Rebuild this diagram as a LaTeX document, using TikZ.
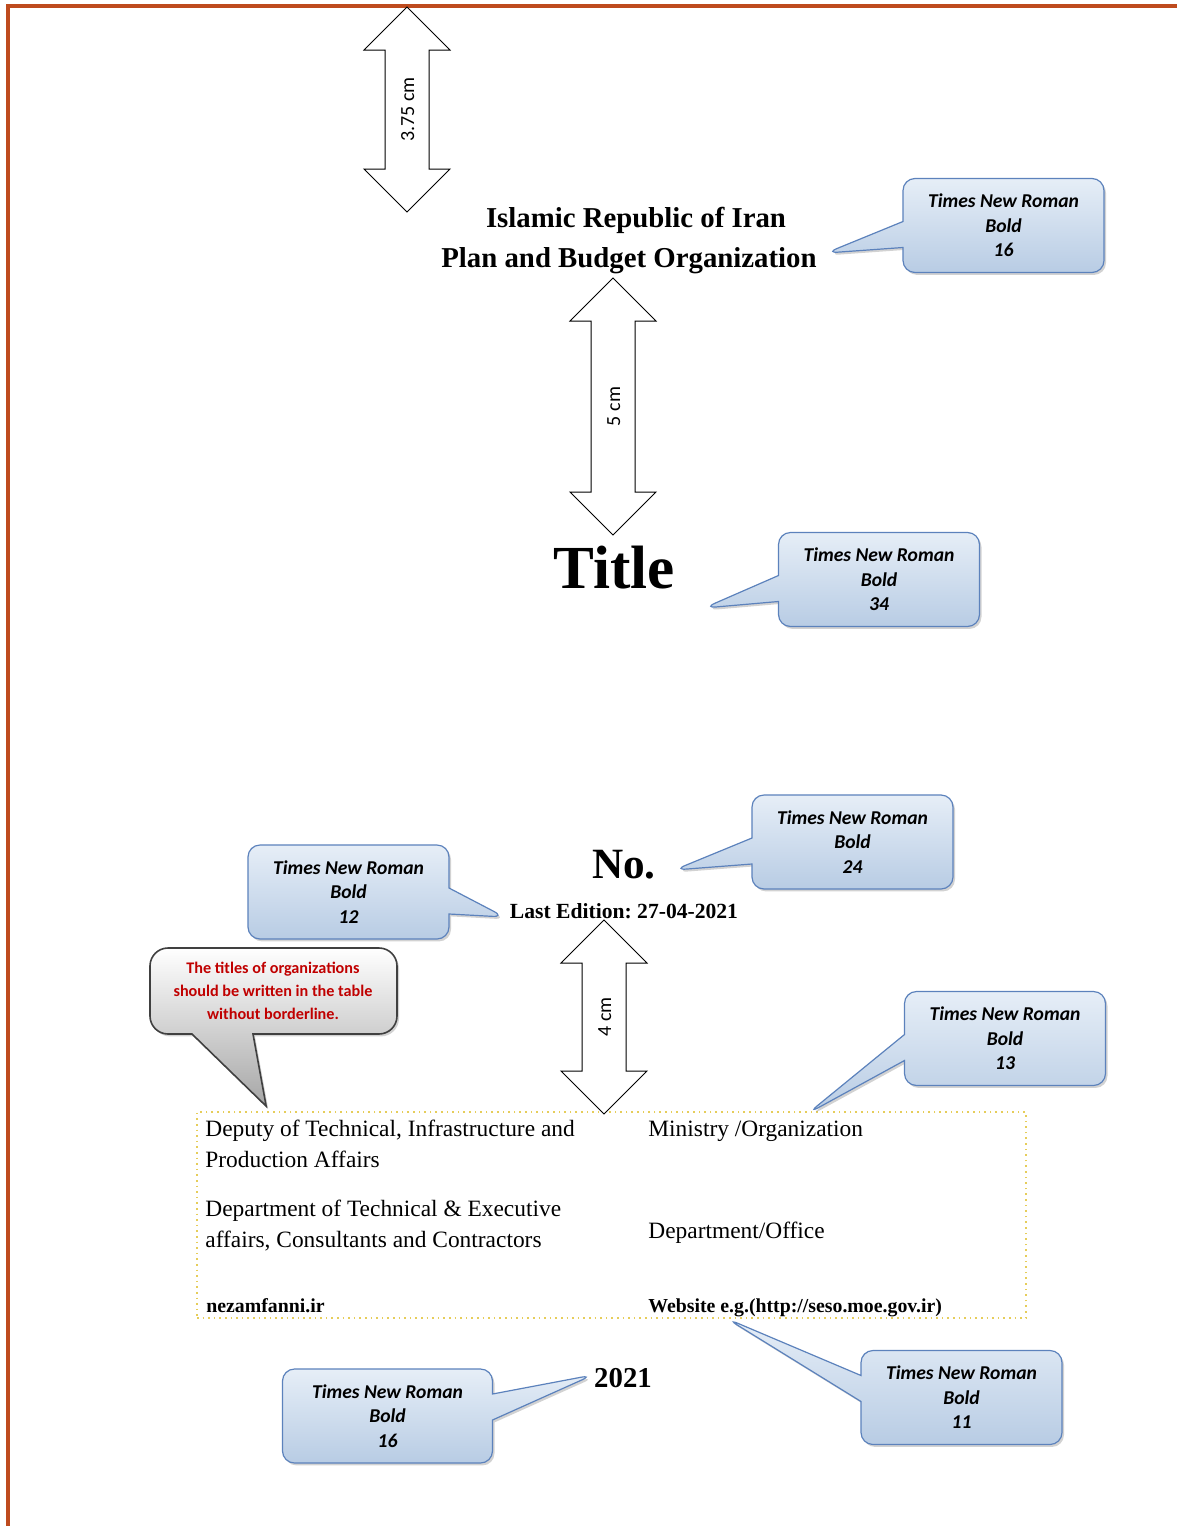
\documentclass[tikz,border=0pt]{standalone}
\usepackage{fontspec}
\setmainfont{Liberation Serif}
\newfontfamily\notefont{Carlito}
\usetikzlibrary{calc,shapes.arrows,shapes.callouts,shadows}
\frenchspacing

\definecolor{frameorange}{RGB}{190,75,30}
\definecolor{notetop}{RGB}{230,238,247}
\definecolor{notebottom}{RGB}{184,204,228}
\definecolor{noteline}{RGB}{92,130,188}
\definecolor{notered}{RGB}{192,0,0}
\definecolor{tabledots}{RGB}{230,205,90}

\begin{document}
\begin{tikzpicture}[x=0.5pt, y=-0.5pt,
    dimarrow/.style={double arrow, draw, fill=white, line width=0.5pt, rotate=90,
      double arrow head extend=10.5pt, text height=7pt, text depth=0pt, inner ysep=7.25pt,
      font=\notefont\fontsize{10}{12}\selectfont},
    fontnote/.style={rectangle callout, draw=noteline, line width=0.6pt, rounded corners=6pt,
      top color=notetop, bottom color=notebottom, minimum width=100.5pt, minimum height=47pt,
      callout pointer width=13pt, align=center,
      font=\notefont\bfseries\itshape\fontsize{9.8}{12.2}\selectfont,
      drop shadow={shadow xshift=1pt, shadow yshift=-1.2pt, opacity=0.35}}]

  % page and frame
  \useasboundingbox (0,0) rectangle (1177,1526);
  \fill[white] (0,0) rectangle (1177,1526);
  \draw[frameorange, line width=1.6pt] (1177,6) -- (8,6) -- (8,1526);

  % header, title, number, year
  \begin{scope}[every node/.style={inner sep=2pt, anchor=base}]
    \node[font=\bfseries\fontsize{14.4}{17}\selectfont] (iran) at (636,227) {Islamic Republic of Iran};
    \node[font=\bfseries\fontsize{14.4}{17}\selectfont] (pbo) at (629,267) {Plan and Budget Organization};
    \node[font=\bfseries\fontsize{30.6}{36}\selectfont] (title) at (614,588) {Title};
    \node[font=\bfseries\fontsize{21.6}{26}\selectfont] (no) at (624,878) {No.};
    \node[font=\bfseries\fontsize{10.8}{13}\selectfont] (edition) at (624,918) {Last Edition: 27-04-2021};
    \node[font=\bfseries\fontsize{14.4}{17}\selectfont] (year) at (623,1387) {2021};
  \end{scope}

  % table without borderline
  \node[draw=tabledots, dotted, line width=0.8pt, minimum width=414.5pt, minimum height=103pt, inner sep=0pt] (orgtable) at (611.5,1215) {};
  \begin{scope}[every node/.style={inner sep=0pt, align=left, font=\fontsize{11.7}{15.5}\selectfont}]
    \node[anchor=north west] (deputy) at (205,1120) {Deputy of Technical, Infrastructure and\\Production Affairs};
    \node[anchor=north west] (dept) at (205,1200) {Department of Technical \& Executive\\affairs, Consultants and Contractors};
    \node[anchor=base west] (ministry) at (648,1136) {Ministry /Organization};
    \node[anchor=base west] (office) at (648,1238) {Department/Office};
    \node[anchor=base west, font=\bfseries\fontsize{9.9}{12}\selectfont] (site) at (206,1312) {nezamfanni.ir};
    \node[anchor=base west, font=\bfseries\fontsize{9.9}{12}\selectfont] (website) at (648,1312) {Website e.g.(http://seso.moe.gov.ir)};
  \end{scope}

  % distances
  \node[dimarrow, minimum height=102.5pt] (gaptop) at (407,109.5) {3.75 cm};
  \node[dimarrow, minimum height=128.5pt] (gaptitle) at (613,406.5) {5 cm};
  \node[dimarrow, minimum height=97pt] (gapbottom) at (604,1017) {4 cm};

  % font notes
  \node[fontnote, callout absolute pointer={($(pbo.base east)+(5,-14)$)}] (note16a) at (1003.5,225.5) {Times New Roman\\Bold\\16};
  \node[fontnote, callout absolute pointer={($(title.base east)+(25,20)$)}] (note34) at (879,579.5) {Times New Roman\\Bold\\34};
  \node[fontnote, callout absolute pointer={($(no.base east)+(14,-8)$)}] (note24) at (852.5,842) {Times New Roman\\Bold\\24};
  \node[fontnote, callout absolute pointer={($(edition.base west)+(-1,-1)$)}] (note12) at (348.5,892) {Times New Roman\\Bold\\12};
  \node[fontnote, callout absolute pointer={($(orgtable.north west)+(612,2)$)}] (note13) at (1005,1038.5) {Times New Roman\\Bold\\13};
  \node[fontnote, callout absolute pointer={($(orgtable.south west)+(531,0)$)}] (note11) at (961.5,1397.5) {Times New Roman\\Bold\\11};
  \node[fontnote, minimum width=105pt, callout absolute pointer={($(year.base west)+(3,-12)$)}] (note16b) at (387.5,1416) {Times New Roman\\Bold\\16};

  % note on the table
  \path[draw=black!75, line width=0.8pt, top color=white, bottom color=black!35,
        drop shadow={shadow xshift=1pt, shadow yshift=-1.2pt, opacity=0.35}]
    ($(orgtable.north west)+(70,-5)$) -- (253,1034) [rounded corners=9pt]
    -- (397,1034) -- (397,948) -- (150,948) -- (150,1034) [sharp corners] -- (192,1034) -- cycle;
  \node[text=notered, align=center, font=\notefont\bfseries\fontsize{8.1}{11.5}\selectfont] (tablenote) at (273,991)
    {The titles of organizations\\should be written in the table\\without borderline.};
\end{tikzpicture}
\end{document}
